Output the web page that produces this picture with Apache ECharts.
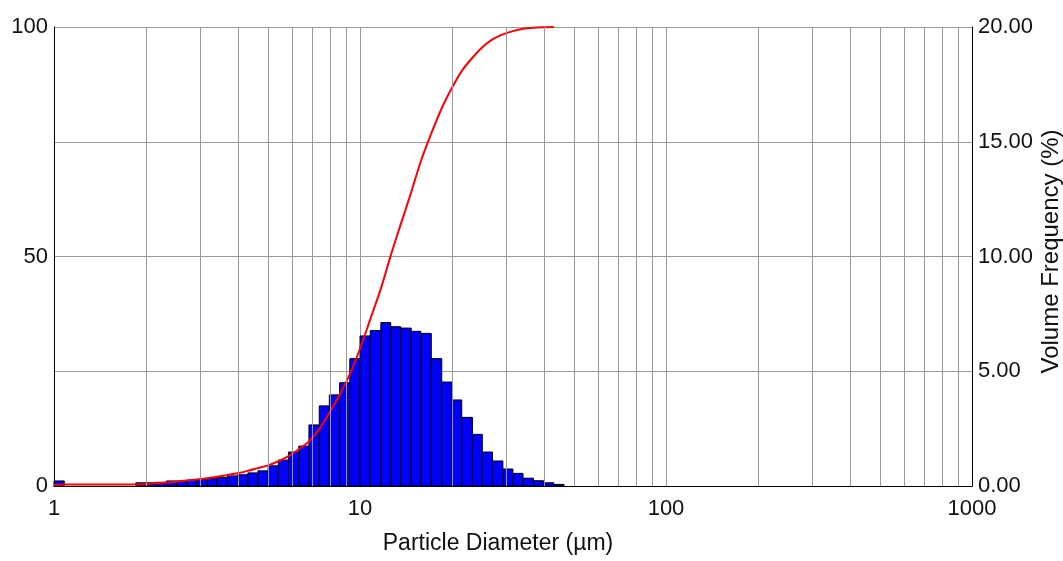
<!DOCTYPE html>
<html>
<head>
<meta charset="utf-8">
<script src="https://cdn.jsdelivr.net/npm/echarts@6/dist/echarts.min.js"></script>
<style>
html,body{margin:0;padding:0;background:#fff;}
#chart{width:1063px;height:561px;}
</style>
</head>
<body>
<div id="chart"></div>
<script>
// Bin edges (particle diameter, µm) — 30 classes per decade
const binEdges = [1.00,1.08,1.17,1.26,1.36,1.47,1.58,1.71,1.85,2.00,
  2.15,2.33,2.51,2.71,2.93,3.16,3.41,3.69,3.98,4.30,
  4.64,5.01,5.41,5.84,6.31,6.81,7.36,7.94,8.58,9.26,
  10.0,10.8,11.7,12.6,13.6,14.7,15.8,17.1,18.5,20.0,
  21.5,23.3,25.1,27.1,29.3,31.6,34.1,36.9,39.8,43.0,46.4];
// Volume frequency (%) per bin
const volumeFreq = [0.22,0,0,0,0,0,0,0,0.14,0.14,
  0.16,0.22,0.22,0.25,0.29,0.33,0.37,0.44,0.49,0.57,
  0.66,0.88,1.13,1.48,1.74,2.66,3.49,3.97,4.50,5.55,
  6.54,6.77,7.12,6.94,6.88,6.74,6.65,5.55,4.53,3.75,
  2.99,2.25,1.48,1.09,0.74,0.55,0.34,0.23,0.14,0.07];
// Cumulative volume (%) at bin edges
const cumDiam = [1.00,1.08,1.17,1.26,1.36,1.47,1.58,1.71,1.85,2.00,
  2.15,2.33,2.51,2.71,2.93,3.16,3.41,3.69,3.98,4.30,
  4.64,5.01,5.41,5.84,6.31,6.81,7.36,7.94,8.58,9.26,
  10.0,10.8,11.7,12.6,13.6,14.7,15.8,17.1,18.5,20.0,
  21.5,23.3,25.1,27.1,29.3,31.6,34.1,36.9,39.8,43.0];
const cumValue = [0.2,0.3,0.3,0.3,0.3,0.3,0.3,0.3,0.3,0.45,
  0.6,0.75,0.95,1.2,1.4,1.7,2.0,2.4,2.8,3.3,
  3.9,4.5,5.4,6.5,8.0,9.7,12.4,15.9,19.9,24.3,
  29.9,36.3,43.0,50.2,57.1,64.0,70.7,76.8,82.3,86.8,
  90.4,93.3,95.6,97.3,98.4,99.1,99.6,99.85,99.95,100];
// Minor vertical grid positions
const minorGrid = [2,3,4,5,6,7,8,9,20,30,40,50,60,70,80,90,200,300,400,500,600,700,800,900];
const xTicks = [1,10,100,1000];
const leftTicks = [0,50,100];
const rightTicks = [0,5,10,15,20];

const barData = volumeFreq.map((v,i)=>[binEdges[i],binEdges[i+1],v]);
const lineData = cumDiam.map((d,i)=>[d,cumValue[i]]);

const FONT = 'Liberation Sans, Arial, sans-serif';
const chart = echarts.init(document.getElementById('chart'), null, {renderer:'canvas'});
chart.setOption({
  animation:false,
  backgroundColor:'#ffffff',
  grid:{left:54,right:91,top:27,bottom:75,show:false,containLabel:false,outerBoundsMode:'none'},
  xAxis:[{
    type:'log',logBase:10,min:xTicks[0],max:xTicks[xTicks.length-1],
    position:'bottom',
    axisLine:{show:true,lineStyle:{color:'#000',width:1}},
    axisTick:{show:false},
    axisLabel:{fontSize:22,fontFamily:FONT,color:'#111',margin:12,formatter:v=>String(v)},
    splitLine:{show:true,lineStyle:{color:'#9a9a9a',width:1}},
    name:'Particle Diameter (µm)',nameLocation:'middle',nameGap:46,nameMoveOverlap:false,
    nameTextStyle:{fontSize:23,fontFamily:FONT,color:'#111',padding:[0,30,0,0]}
  },{
    type:'log',logBase:10,min:1,max:1000,position:'top',
    axisLine:{show:true,lineStyle:{color:'#000',width:1}},
    axisTick:{show:false},axisLabel:{show:false},splitLine:{show:false}
  }],
  yAxis:[{
    type:'value',min:0,max:100,interval:50,position:'left',
    axisLine:{show:true,lineStyle:{color:'#000',width:1}},
    axisTick:{show:false},
    axisLabel:{fontSize:22,fontFamily:FONT,color:'#111',margin:6},
    splitLine:{show:false}
  },{
    type:'value',min:0,max:20,interval:5,position:'right',
    axisLine:{show:true,lineStyle:{color:'#000',width:1}},
    axisTick:{show:false},
    axisLabel:{fontSize:22,fontFamily:FONT,color:'#111',margin:6,formatter:v=>v.toFixed(2)},
    splitLine:{show:true,lineStyle:{color:'#9a9a9a',width:1}},
    name:'Volume Frequency (%)',nameLocation:'middle',nameGap:67,nameRotate:90,nameMoveOverlap:false,
    nameTextStyle:{fontSize:24,fontFamily:FONT,color:'#111',padding:[0,0,0,10]}
  }],
  series:[{
    type:'line',data:[],z:1,silent:true,
    markLine:{silent:true,symbol:'none',label:{show:false},
      lineStyle:{color:'#9a9a9a',width:1,type:'solid'},
      data:minorGrid.map(v=>({xAxis:v}))}
  },{
    type:'custom',xAxisIndex:0,yAxisIndex:1,z:2,
    encode:{x:[0,1],y:2},
    data:barData,
    renderItem:function(params,api){
      const lo=api.value(0),hi=api.value(1),v=api.value(2);
      if(!(v>0)) return null;
      const p1=api.coord([lo,v]);
      const p0=api.coord([hi,0]);
      return {type:'rect',shape:{x:p1[0],y:p1[1],width:p0[0]-p1[0],height:p0[1]-p1[1]},
        style:{fill:'#0000ff',stroke:'#000',lineWidth:1}};
    }
  },{
    type:'line',xAxisIndex:0,yAxisIndex:0,z:3,
    data:lineData,smooth:0.3,showSymbol:false,
    lineStyle:{color:'#ff0000',width:2}
  }]
});
</script>
</body>
</html>
